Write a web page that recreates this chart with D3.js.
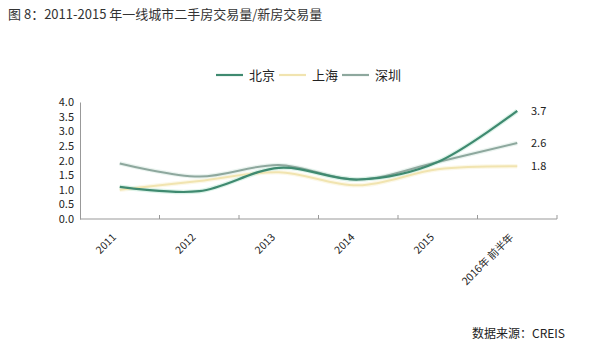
<!DOCTYPE html>
<html><head><meta charset="utf-8">
<script src="https://cdn.jsdelivr.net/npm/d3@7/dist/d3.min.js"></script>
<style>body{margin:0;background:#fff;}text{font-family:"Noto Sans CJK SC","Noto Sans",sans-serif;}</style>
</head><body><svg id="c" width="602" height="360"></svg>
<script>
const categories = ["2011","2012","2013","2014","2015","2016年 前半年"];
const beijing  = [1.1, 0.95, 1.75, 1.35, 1.95, 3.7];
const shanghai = [1.0, 1.3, 1.6, 1.15, 1.7, 1.8];
const shenzhen = [1.9, 1.45, 1.85, 1.35, 1.95, 2.6];
const yTicks = [0,0.5,1,1.5,2,2.5,3,3.5,4];
const endLabels = ["3.7","2.6","1.8"];

const series = [
  {name:"北京", values:beijing, color:"#3f8a70", halo:"#d4f0e3", w:2.2},
  {name:"上海", values:shanghai, color:"#f1e4b0", halo:"#fbf6e2", w:2},
  {name:"深圳", values:shenzhen, color:"#8ea89e", halo:"#e6f1ec", w:2}
];

const svg = d3.select("#c");
const x = d3.scaleBand().domain(categories).range([80,557]);
const y = d3.scaleLinear().domain([0,4]).range([219,102]);

svg.append("text").attr("x",8).attr("y",19).attr("font-size",13).attr("fill","#333")
  .text("图 8：2011-2015 年一线城市二手房交易量/新房交易量");

// axes
const ya = svg.append("g").attr("transform","translate(80,0)")
  .call(d3.axisLeft(y).tickValues(yTicks).tickFormat(d3.format(".1f")).tickSize(0).tickPadding(6));
ya.select(".domain").attr("stroke","#999");
ya.selectAll("text").attr("font-size",11).attr("fill","#222").attr("font-family","'DejaVu Sans',sans-serif");

const xa = svg.append("g").attr("transform","translate(0,219)");
xa.append("line").attr("x1",80).attr("x2",557).attr("stroke","#999");
const bounds = categories.map(c=>x(c)+x.bandwidth());
xa.selectAll("line.t").data(bounds).join("line").attr("class","t")
  .attr("x1",d=>d).attr("x2",d=>d).attr("y1",0).attr("y2",-4).attr("stroke","#999");
xa.selectAll("text").data(categories).join("text")
  .attr("transform",d=>`translate(${x(d)+x.bandwidth()/2-3},${19}) rotate(-45)`)
  .attr("text-anchor","end").attr("font-size",10.5).attr("fill","#222").text(d=>d);

const line = d3.line().x((d,i)=>x(categories[i])+x.bandwidth()/2).y(d=>y(d)).curve(d3.curveCatmullRom.alpha(0));
const order = [1,2,0];
order.forEach(k=>{
  const s = series[k];
  svg.append("path").attr("d",line(s.values)).attr("fill","none").attr("stroke",s.halo).attr("stroke-width",s.w+2.5).attr("opacity",0.8);
});
order.forEach(k=>{
  const s = series[k];
  svg.append("path").attr("d",line(s.values)).attr("fill","none").attr("stroke",s.color).attr("stroke-width",s.w);
});

// end labels
const endVals = [beijing[5], shenzhen[5], shanghai[5]];
svg.selectAll("text.end").data(endVals).join("text").attr("class","end")
  .attr("x",531).attr("y",d=>y(d)+4).attr("font-size",11).attr("fill","#222")
  .attr("font-family","'DejaVu Sans',sans-serif")
  .text((d,i)=>endLabels[i]);

// legend
const lx = [216,279,342];
series.forEach((s,i)=>{
  svg.append("line").attr("x1",lx[i]).attr("x2",lx[i]+27).attr("y1",75).attr("y2",75).attr("stroke",s.color).attr("stroke-width",2.2);
  svg.append("text").attr("x",lx[i]+33).attr("y",80).attr("font-size",13).attr("fill","#222").text(s.name);
});

svg.append("text").attr("x",472).attr("y",338).attr("font-size",12).attr("fill","#222").text("数据来源：CREIS");
</script></body></html>
